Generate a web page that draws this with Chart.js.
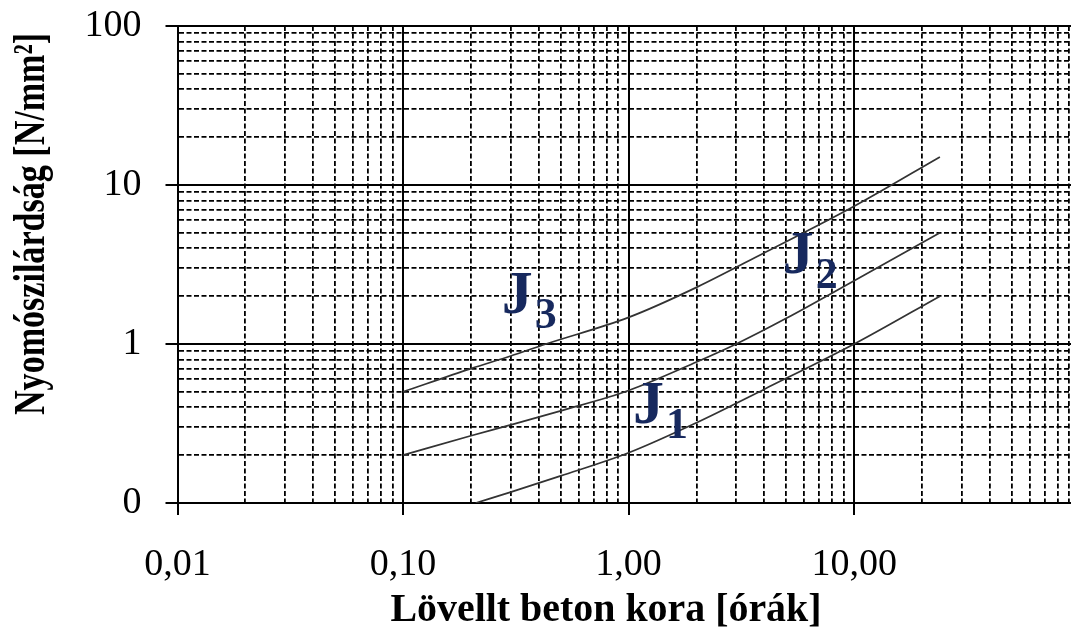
<!DOCTYPE html>
<html>
<head>
<meta charset="utf-8">
<script src="https://cdn.jsdelivr.net/npm/chart.js@4.4.1/dist/chart.umd.min.js"></script>
<style>
  html, body { margin: 0; padding: 0; background: #ffffff; overflow: hidden; }
  canvas { display: block; }
</style>
</head>
<body>
<canvas id="c" width="1071" height="630"></canvas>
<script>
// ---- data ----
const xTickValues = [0.01, 0.1, 1, 10];
const xTickLabels = ['0,01', '0,10', '1,00', '10,00'];
const yTickValues = [0.1, 1, 10, 100];
const yTickLabels = ['0', '1', '10', '100'];

const j1X = [0.21, 0.3, 0.5, 1, 2, 4, 10, 24];
const j1Y = [0.1, 0.117, 0.148, 0.207, 0.32, 0.52, 1.0, 2.0];
const j2X = [0.1, 0.2, 0.3, 0.5, 1, 2, 3, 5, 10, 24];
const j2Y = [0.2, 0.265, 0.31, 0.38, 0.51, 0.77, 1.0, 1.45, 2.5, 5.0];
const j3X = [0.1, 0.2, 0.3, 0.43, 1, 2, 4, 10, 24];
const j3Y = [0.5, 0.7, 0.84, 1.0, 1.47, 2.27, 3.75, 7.35, 15];

const curveLabelMain = ['J', 'J', 'J'];
const curveLabelSub = ['1', '2', '3'];
const curveLabelX = [1.045, 4.83, 0.274];
const curveLabelY = [0.319, 2.79, 1.57];

const xTitle = 'Lövellt beton kora [órák]';
const yTitle = 'Nyomószilárdság [N/mm²]';

// ---- helpers ----
function isDecade(v) {
  const l = Math.log10(v);
  return Math.abs(l - Math.round(l)) < 1e-6;
}
function logTicks(decades) {
  const out = [];
  decades.forEach(d => { for (let m = 1; m <= 9; m++) out.push(+(d * m).toPrecision(6)); });
  return out;
}
function pts(xs, ys) { return xs.map((x, i) => ({ x: x, y: ys[i] })); }
function labelFor(values, labels) {
  return function (v) {
    for (let i = 0; i < values.length; i++) {
      if (Math.abs(values[i] - v) / values[i] < 1e-6) return labels[i];
    }
    return '';
  };
}

const gridOpts = {
  color: '#000',
  lineWidth: c => (c.tick && !isDecade(c.tick.value)) ? 1.8 : 2,
  tickColor: c => (c.tick && !isDecade(c.tick.value)) ? 'rgba(0,0,0,0)' : '#000',
  tickWidth: 2,
  tickLength: 12,
  drawTicks: true
};
const borderOpts = {
  display: true,
  color: '#000',
  width: 2,
  dash: c => (c.tick && !isDecade(c.tick.value)) ? [5, 2.5] : []
};

const lineStyle = {
  borderColor: '#333333',
  borderWidth: 1.7,
  pointRadius: 0,
  fill: false,
  cubicInterpolationMode: 'monotone'
};

const textPlugin = {
  id: 'texts',
  afterDatasetsDraw(chart) {
    const ctx = chart.ctx;
    const xs = chart.scales.x, ys = chart.scales.y;
    ctx.save();
    ctx.fillStyle = '#17295e';
    ctx.textBaseline = 'alphabetic';
    ctx.textAlign = 'left';
    for (let i = 0; i < curveLabelMain.length; i++) {
      const px = xs.getPixelForValue(curveLabelX[i]);
      const py = ys.getPixelForValue(curveLabelY[i]);
      ctx.font = 'bold 62px "Liberation Serif"';
      ctx.fillText(curveLabelMain[i], px, py);
      const w = ctx.measureText(curveLabelMain[i]).width;
      ctx.font = 'bold 44px "Liberation Serif"';
      ctx.fillText(curveLabelSub[i], px + w + 2, py + 15);
    }
    ctx.restore();
  },
  afterDraw(chart) {
    const ctx = chart.ctx;
    ctx.save();
    ctx.fillStyle = '#000';
    ctx.textBaseline = 'alphabetic';
    ctx.textAlign = 'center';
    // x title
    ctx.font = 'bold 40px "Liberation Serif"';
    let w = ctx.measureText(xTitle).width;
    ctx.save();
    ctx.translate(606, 621);
    ctx.scale(431 / w, 1);
    ctx.fillText(xTitle, 0, 0);
    ctx.restore();
    // y title
    ctx.font = 'bold 44px "Liberation Serif"';
    w = ctx.measureText(yTitle).width;
    ctx.save();
    ctx.translate(44, 224);
    ctx.rotate(-Math.PI / 2);
    ctx.scale(382 / w, 1);
    ctx.fillText(yTitle, 0, 0);
    ctx.restore();
    ctx.restore();
  }
};

new Chart(document.getElementById('c'), {
  type: 'line',
  data: {
    datasets: [
      Object.assign({ label: 'J1', data: pts(j1X, j1Y) }, lineStyle),
      Object.assign({ label: 'J2', data: pts(j2X, j2Y) }, lineStyle),
      Object.assign({ label: 'J3', data: pts(j3X, j3Y) }, lineStyle)
    ]
  },
  options: {
    responsive: false,
    animation: false,
    layout: { padding: { top: 26, left: 0, right: 0, bottom: 0 } },
    plugins: { legend: { display: false }, tooltip: { enabled: false }, title: { display: false } },
    scales: {
      x: {
        type: 'logarithmic',
        min: 0.01,
        max: 91.5,
        afterBuildTicks: s => { s.ticks = logTicks(xTickValues).map(v => ({ value: v })); },
        afterFit: s => { s.height = 127; s.paddingLeft = 0; s.paddingRight = 0; },
        ticks: {
          autoSkip: false,
          maxRotation: 0,
          minRotation: 0,
          padding: 27,
          color: '#000',
          font: { family: 'Liberation Serif', size: 38 },
          callback: labelFor(xTickValues, xTickLabels)
        },
        grid: gridOpts,
        border: borderOpts
      },
      y: {
        type: 'logarithmic',
        min: 0.1,
        max: 100,
        afterBuildTicks: s => { s.ticks = logTicks([0.1, 1, 10]).concat([100]).map(v => ({ value: v })); },
        afterFit: s => { s.width = 177.5; s.paddingTop = 0; s.paddingBottom = 0; },
        ticks: {
          autoSkip: false,
          padding: 24,
          color: '#000',
          font: { family: 'Liberation Serif', size: 38 },
          callback: labelFor(yTickValues, yTickLabels)
        },
        grid: gridOpts,
        border: borderOpts
      }
    }
  },
  plugins: [textPlugin]
});
</script>
</body>
</html>
